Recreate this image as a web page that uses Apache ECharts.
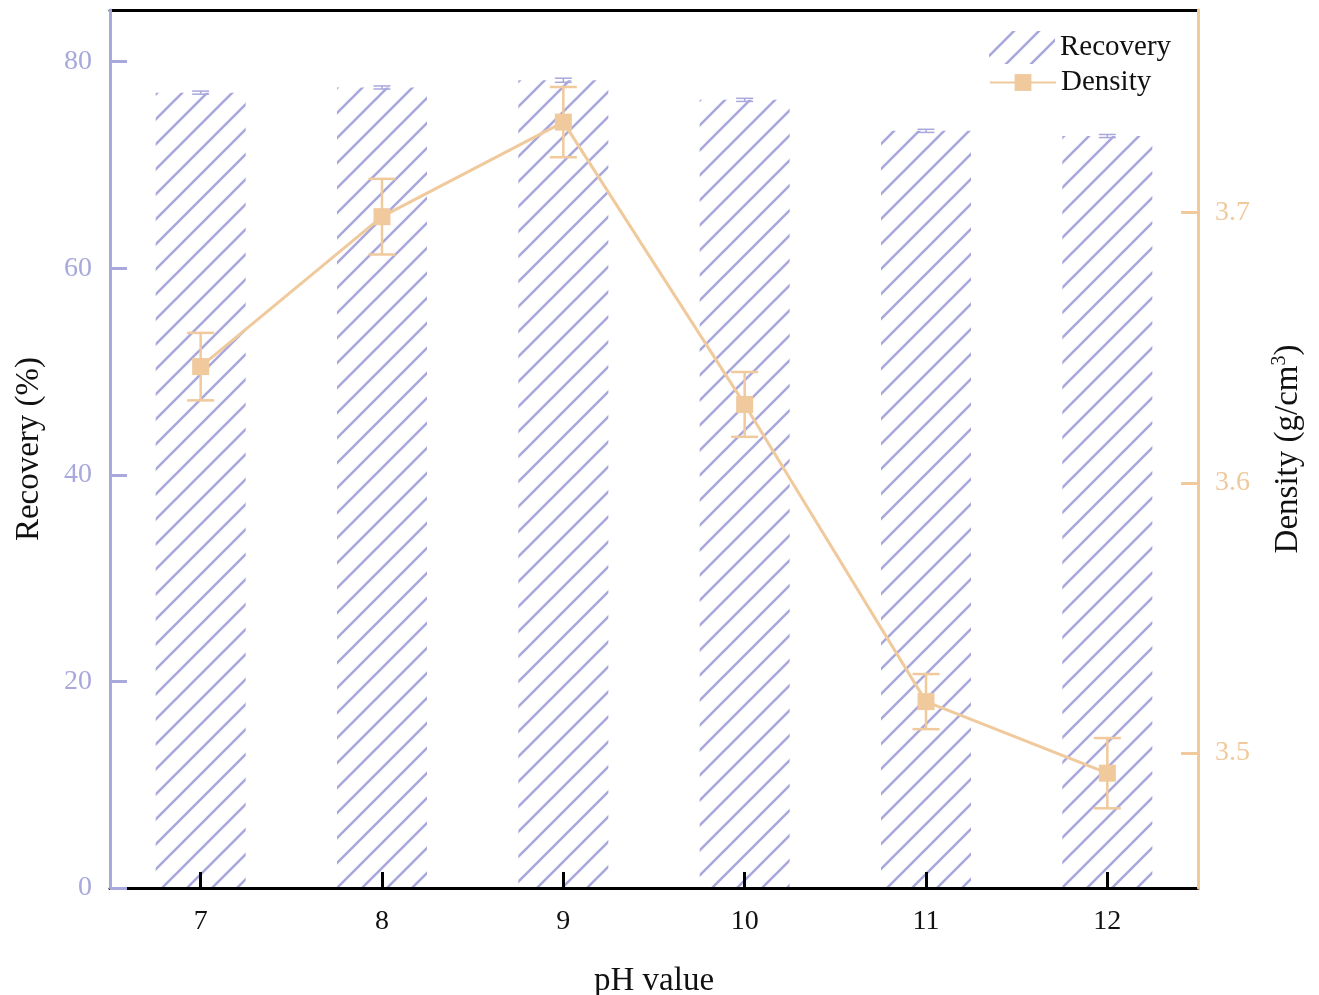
<!DOCTYPE html>
<html><head><meta charset="utf-8">
<script src="https://cdn.jsdelivr.net/npm/echarts@6/dist/echarts.min.js"></script>
<style>html,body{margin:0;padding:0;background:#fff}#c{width:1319px;height:995px}</style>
</head><body><div id="c"></div>
<script>
const categories = ['7','8','9','10','11','12'];
const recovery = [77.0, 77.5, 78.2, 76.3, 73.3, 72.8];
const recoveryErr = [0.15, 0.15, 0.2, 0.15, 0.15, 0.15];
const density = [3.643, 3.6985, 3.7335, 3.629, 3.519, 3.4925];
const densityErr = [0.0125, 0.014, 0.013, 0.012, 0.0102, 0.013];
const leftTicks = [0, 20, 40, 60, 80];
const rightTicks = [3.5, 3.6, 3.7];

const LAV = '#A8A8DC';
const ORA = '#F0C99C';
const FONT = '"Liberation Serif","Times New Roman",serif';

// hatch pattern: 45 degree lines, period 25px
const PW = 25, PH = 25;
const pc = document.createElement('canvas');
pc.width = PW; pc.height = PH;
const g = pc.getContext('2d');
g.strokeStyle = LAV; g.lineWidth = 2.6; g.lineCap = 'butt';
g.beginPath();
for (const off of [-PH, 0, PH]) {
  g.moveTo(-PW, 2 * PH + off); g.lineTo(2 * PW, -PH + off);
}
g.stroke();

function errRender(color, capW, lw) {
  return function (params, api) {
    const x = api.value(0), y = api.value(1), e = api.value(2);
    const t = api.coord([x, y + e]);
    const b = api.coord([x, y - e]);
    const st = { stroke: color, lineWidth: lw };
    return { type: 'group', children: [
      { type: 'line', shape: { x1: t[0], y1: t[1], x2: b[0], y2: b[1] }, style: st },
      { type: 'line', shape: { x1: t[0] - capW / 2, y1: t[1], x2: t[0] + capW / 2, y2: t[1] }, style: st },
      { type: 'line', shape: { x1: b[0] - capW / 2, y1: b[1], x2: b[0] + capW / 2, y2: b[1] }, style: st }
    ]};
  };
}

const chart = echarts.init(document.getElementById('c'), null, { renderer: 'canvas' });
chart.setOption({
  backgroundColor: '#fff',
  animation: false,
  textStyle: { fontFamily: FONT },
  grid: { left: 110, right: 121, top: 10, bottom: 107, containLabel: false, outerBoundsMode: 'none' },
  legend: [{
    orient: 'vertical', left: 984, top: 26,
    itemWidth: 66, itemHeight: 33,
    textStyle: { fontFamily: FONT, fontSize: 29, color: '#111' },
    data: ['Recovery']
  }, {
    orient: 'vertical', left: 984, top: 63,
    itemWidth: 66, itemHeight: 21,
    textStyle: { fontFamily: FONT, fontSize: 29, color: '#111' },
    data: ['Density']
  }],
  xAxis: [{
    type: 'category', data: categories, boundaryGap: true, position: 'bottom',
    axisLine: { show: true, lineStyle: { color: '#000', width: 3 } },
    axisTick: { show: true, inside: true, length: 16, alignWithLabel: true, lineStyle: { color: '#000', width: 3 } },
    axisLabel: { fontFamily: FONT, fontSize: 28, color: '#111', margin: 20 },
    name: 'pH value', nameLocation: 'middle', nameGap: 77,
    nameTextStyle: { fontFamily: FONT, fontSize: 33, color: '#111' },
    z: 10
  }, {
    type: 'category', data: categories, position: 'top',
    axisLine: { show: true, lineStyle: { color: '#000', width: 3 } },
    axisTick: { show: false }, axisLabel: { show: false }
  }],
  yAxis: [{
    type: 'value', min: 0, max: 85, position: 'left',
    splitLine: { show: false },
    axisLine: { show: true, lineStyle: { color: LAV, width: 3 } },
    axisTick: { show: true, inside: true, length: 17, customValues: leftTicks, lineStyle: { color: LAV, width: 3 } },
    axisLabel: { fontFamily: FONT, fontSize: 28, color: LAV, margin: 18, customValues: leftTicks },
    name: 'Recovery (%)', nameLocation: 'middle', nameGap: 64, nameRotate: 90,
    nameTextStyle: { fontFamily: FONT, fontSize: 33, color: '#111' },
    z: 11
  }, {
    type: 'value', min: 3.45, max: 3.775, position: 'right',
    splitLine: { show: false },
    axisLine: { show: true, lineStyle: { color: ORA, width: 3 } },
    axisTick: { show: true, inside: true, length: 17, customValues: rightTicks, lineStyle: { color: ORA, width: 3 } },
    axisLabel: { fontFamily: FONT, fontSize: 28, color: ORA, margin: 17, customValues: rightTicks,
      formatter: v => v.toFixed(1) },
    name: 'Density (g/cm{sup|3})', nameLocation: 'middle', nameGap: 72, nameRotate: 90,
    nameTextStyle: { fontFamily: FONT, fontSize: 33, color: '#111',
      rich: { sup: { fontFamily: FONT, fontSize: 20, color: '#111', verticalAlign: 'top', padding: [0, 0, 16, 0] } } },
    z: 11
  }],
  series: [{
    name: 'Recovery', type: 'bar', data: recovery, barWidth: 90,
    itemStyle: { color: { image: pc, repeat: 'repeat' } },
    z: 2
  }, {
    type: 'custom', name: 'recErr', xAxisIndex: 0, yAxisIndex: 0,
    renderItem: errRender(LAV, 17, 1.5),
    data: recovery.map((v, i) => [i, v, recoveryErr[i]]), z: 3, silent: true
  }, {
    type: 'custom', name: 'denErr', xAxisIndex: 0, yAxisIndex: 1,
    renderItem: errRender(ORA, 27, 2.5),
    data: density.map((v, i) => [i, v, densityErr[i]]), z: 4, silent: true
  }, {
    name: 'Density', type: 'line', yAxisIndex: 1, data: density,
    symbol: 'rect', symbolSize: 17,
    lineStyle: { color: ORA, width: 3 },
    itemStyle: { color: ORA },
    z: 5
  }]
});
</script></body></html>
